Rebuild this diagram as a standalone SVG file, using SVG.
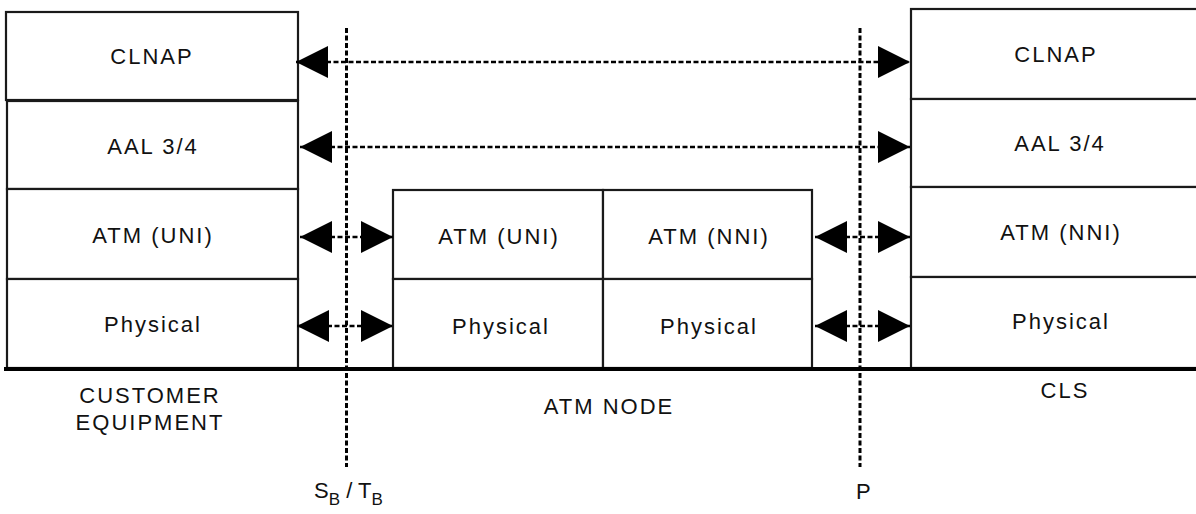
<svg xmlns="http://www.w3.org/2000/svg" width="1196" height="514" viewBox="0 0 1196 514">
<style>
.box{fill:#fff;stroke:#1a1a1a;stroke-width:2.2}
.lbl{font-family:"Liberation Sans",Arial,sans-serif;font-size:22px;letter-spacing:2px;fill:#111;text-anchor:middle}
.ref{font-family:"Liberation Sans",Arial,sans-serif;font-size:22px;fill:#111}
.conn{stroke:#000;stroke-width:2.5;stroke-dasharray:5 2.5;fill:none}
.vline{stroke:#000;stroke-width:3;stroke-dasharray:5 2.5;fill:none}
</style>
<defs>
<marker id="ah" viewBox="0 0 32 32" refX="32" refY="16" markerWidth="32" markerHeight="32" markerUnits="userSpaceOnUse" orient="auto-start-reverse">
<path d="M0,0 L32,16 L0,32 Z" fill="#000"/>
</marker>
</defs>
<rect width="1196" height="514" fill="#fff"/>

<g id="customer-equipment">
<rect class="box" x="6" y="12" width="292" height="88"/>
<text class="lbl" x="152" y="64">CLNAP</text>
<rect class="box" x="7" y="101" width="291" height="88"/>
<text class="lbl" x="153" y="154">AAL 3/4</text>
<rect class="box" x="7" y="189" width="291" height="90"/>
<text class="lbl" x="153" y="243">ATM (UNI)</text>
<rect class="box" x="7" y="279" width="291" height="89"/>
<text class="lbl" x="153" y="332">Physical</text>
<text class="lbl" x="150" y="403">CUSTOMER</text>
<text class="lbl" x="150" y="430">EQUIPMENT</text>
</g>

<g id="atm-node">
<rect class="box" x="393" y="190" width="210" height="89"/>
<text class="lbl" x="499" y="244">ATM (UNI)</text>
<rect class="box" x="603" y="190" width="209" height="89"/>
<text class="lbl" x="709" y="244">ATM (NNI)</text>
<rect class="box" x="393" y="279" width="210" height="89"/>
<text class="lbl" x="501" y="334">Physical</text>
<rect class="box" x="603" y="279" width="209" height="89"/>
<text class="lbl" x="709" y="334">Physical</text>
<text class="lbl" x="609" y="414">ATM NODE</text>
</g>

<g id="cls">
<rect class="box" x="911" y="9" width="290" height="90"/>
<text class="lbl" x="1056" y="62">CLNAP</text>
<rect class="box" x="911" y="99" width="290" height="88"/>
<text class="lbl" x="1060" y="151">AAL 3/4</text>
<rect class="box" x="911" y="187" width="290" height="90"/>
<text class="lbl" x="1061" y="240">ATM (NNI)</text>
<rect class="box" x="911" y="277" width="290" height="91"/>
<text class="lbl" x="1061" y="329">Physical</text>
<text class="lbl" x="1065" y="398">CLS</text>
</g>

<g id="ground">
<line x1="4" y1="369" x2="1196" y2="369" stroke="#000" stroke-width="4"/>
</g>

<g id="reference-points">
<line class="vline" x1="346.5" y1="28" x2="346.5" y2="467"/>
<line class="vline" x1="860" y1="28" x2="860" y2="467"/>
<text class="ref" x="314" y="498">S<tspan font-size="17" dy="7">B</tspan><tspan dy="-7"> / T</tspan><tspan font-size="17" dy="7">B</tspan></text>
<text class="ref" x="856" y="499">P</text>
</g>

<g id="connectors">
<line class="conn" x1="296" y1="62" x2="910" y2="62" marker-start="url(#ah)" marker-end="url(#ah)"/>
<line class="conn" x1="300" y1="147" x2="910" y2="147" marker-start="url(#ah)" marker-end="url(#ah)"/>
<line class="conn" x1="300" y1="237" x2="393" y2="237" marker-start="url(#ah)" marker-end="url(#ah)"/>
<line class="conn" x1="297" y1="326" x2="393" y2="326" marker-start="url(#ah)" marker-end="url(#ah)"/>
<line class="conn" x1="815" y1="237" x2="910" y2="237" marker-start="url(#ah)" marker-end="url(#ah)"/>
<line class="conn" x1="815" y1="326" x2="910" y2="326" marker-start="url(#ah)" marker-end="url(#ah)"/>
</g>
</svg>
